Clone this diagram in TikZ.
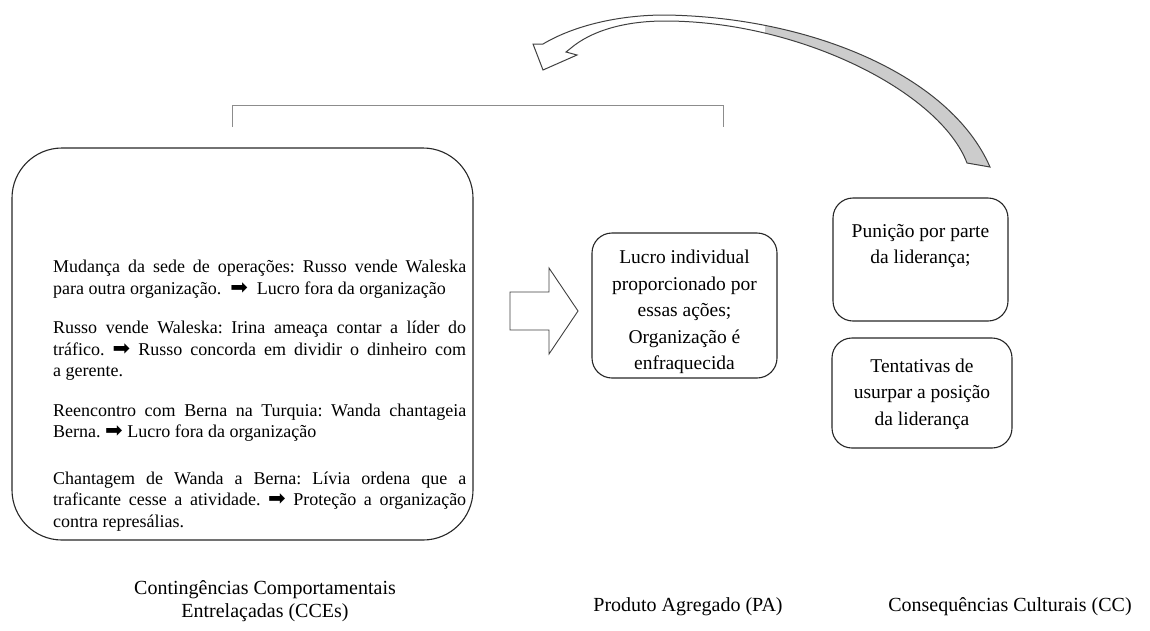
\documentclass[tikz,border=0pt]{standalone}
\usepackage{fontspec}
\setmainfont{Liberation Serif}
\newfontfamily\dejavu{DejaVu Sans}
\newcommand{\blkarr}{\smash{{\dejavu\fontsize{21}{21}\selectfont\char"27A1}}}
\newcommand{\jline}[1]{\makebox[413pt][s]{#1}}
\newcommand{\cshape}{(533,44) -- (543,44) .. controls (575,25) and (620,15) .. (665,15) .. controls (810,17) and (950,75) .. (990,167) -- (967,163) .. controls (940,92) and (800,21) .. (665,21) .. controls (622,21) and (590,32) .. (571,48) -- (566,52) -- (577,55) -- (543,70) -- cycle}
\begin{document}
\frenchspacing
\begin{tikzpicture}[x=1pt,y=-1pt,
  rbox/.style={draw=black!85, line width=1.1pt, inner sep=0pt},
  boxtext/.style={inner sep=0pt, align=left, font=\fontsize{18}{21.5}\selectfont},
  bigtext/.style={inner sep=0pt, align=center, font=\fontsize{19.5}{26.5}\selectfont},
  label/.style={inner sep=0pt, align=center, font=\fontsize{20}{23}\selectfont},
  bracket/.style={draw=black!45, line width=1pt},
  blockarrow/.style={draw=black!75, line width=0.9pt, fill=white, line join=miter},
  curvedarrow/.style={draw=black!75, line width=1pt, line join=miter}]
\useasboundingbox (0,0) rectangle (1150,630);

% bracket
\coordinate (brl) at (232,127);
\coordinate (brr) at (723,127);
\draw[bracket] (brl) -- (brl |- 0,105) -- (brr |- 0,105) -- (brr);

% big CCE box
\node[rbox, rounded corners=50pt, minimum width=461pt, minimum height=392pt] (cces) at (242.5,344) {};
\node[boxtext, anchor=north west] (ccetext) at (53,260) {%
\jline{Mudança da sede de operações: Russo vende Waleska}\\
para outra organização.~ \blkarr~ Lucro fora da organização\\[18pt]
\jline{Russo vende Waleska: Irina ameaça contar a líder do}\\
\jline{tráfico. \blkarr\ Russo concorda em dividir o dinheiro com}\\
a gerente.\\[18pt]
\jline{Reencontro com Berna na Turquia: Wanda chantageia}\\
Berna. \blkarr\ Lucro fora da organização\\[25pt]
\jline{Chantagem de Wanda a Berna: Lívia ordena que a}\\
\jline{traficante cesse a atividade. \blkarr\ Proteção a organização}\\
contra represálias.};

% block arrow
\coordinate (ba1) at (510,292);
\coordinate (ba2) at (549,292);
\coordinate (ba3) at (549,268);
\coordinate (ba4) at (578,311);
\coordinate (ba5) at (549,354);
\coordinate (ba6) at (549,330);
\coordinate (ba7) at (510,330);
\draw[blockarrow] (ba1) -- (ba2) -- (ba3) -- (ba4) -- (ba5) -- (ba6) -- (ba7) -- cycle;

% PA box
\node[rbox, rounded corners=20pt, minimum width=185pt, minimum height=145pt] (pa) at (684.5,305.5) {};
\node[bigtext] (patext) at (684.5,312) {Lucro individual\\proporcionado por\\essas ações;\\Organização é\\enfraquecida};

% CC boxes
\node[rbox, rounded corners=20pt, minimum width=175pt, minimum height=123pt] (cc1) at (920.5,259.5) {};
\node[bigtext, anchor=north] (cc1text) at (920.5,224) {Punição por parte\\da liderança;};
\node[rbox, rounded corners=20pt, minimum width=180pt, minimum height=110pt] (cc2) at (922,393) {};
\node[bigtext] (cc2text) at (922,394) {Tentativas de\\usurpar a posição\\da liderança};

% curved arrow
\begin{scope}
\clip (0,0) rectangle (765,200);
\fill[white] \cshape;
\end{scope}
\begin{scope}
\clip (765,0) rectangle (1150,200);
\fill[black!20] \cshape;
\end{scope}
\draw[curvedarrow] \cshape;

% labels
\node[label] (lcce) at (265,601) {Contingências Comportamentais\\Entrelaçadas (CCEs)};
\node[label] (lpa) at (688,607) {Produto Agregado (PA)};
\node[label] (lcc) at (1010,607) {Consequências Culturais (CC)};
\end{tikzpicture}
\end{document}
